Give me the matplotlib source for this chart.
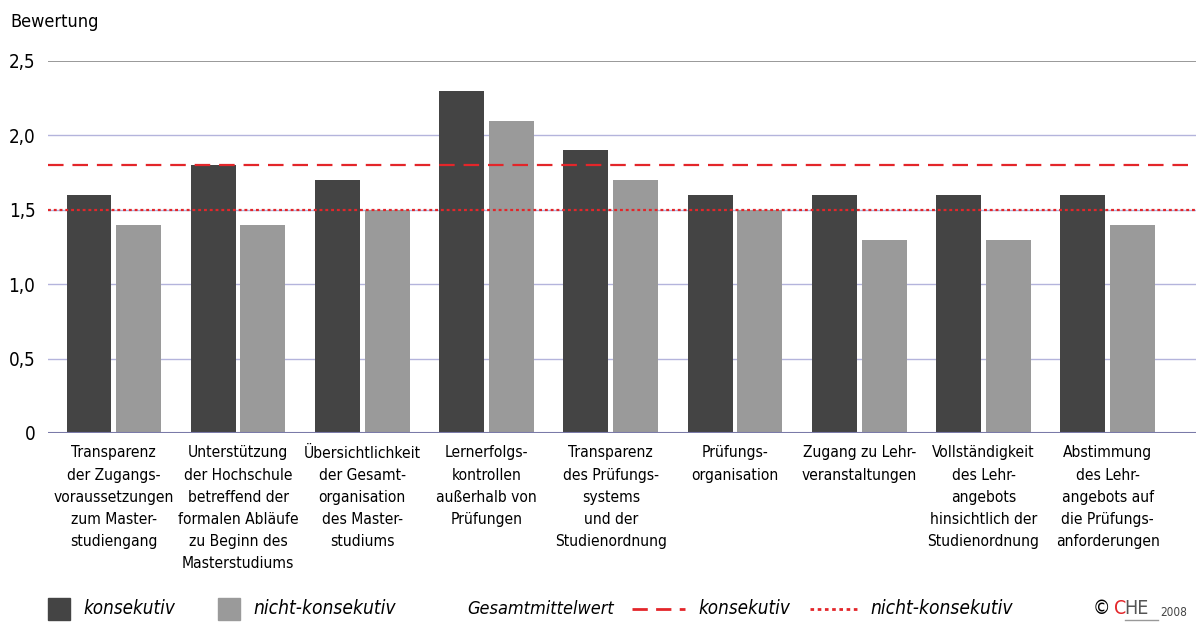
import matplotlib
matplotlib.use('Agg')
import matplotlib.pyplot as plt
import matplotlib.patches as mpatches
import matplotlib.lines as mlines
import numpy as np

plt.rcParams['font.family'] = ['DejaVu Sans']
plt.rcParams['font.stretch'] = 'condensed'

categories = [
    'Transparenz\nder Zugangs-\nvoraussetzungen\nzum Master-\nstudiengang',
    'Unterstützung\nder Hochschule\nbetreffend der\nformalen Abläufe\nzu Beginn des\nMasterstudiums',
    'Übersichtlichkeit\nder Gesamt-\norganisation\ndes Master-\nstudiums',
    'Lernerfolgs-\nkontrollen\naußerhalb von\nPrüfungen',
    'Transparenz\ndes Prüfungs-\nsystems\nund der\nStudienordnung',
    'Prüfungs-\norganisation',
    'Zugang zu Lehr-\nveranstaltungen',
    'Vollständigkeit\ndes Lehr-\nangebots\nhinsichtlich der\nStudienordnung',
    'Abstimmung\ndes Lehr-\nangebots auf\ndie Prüfungs-\nanforderungen',
]
konsekutiv = [1.6, 1.8, 1.7, 2.3, 1.9, 1.6, 1.6, 1.6, 1.6]
nicht_konsekutiv = [1.4, 1.4, 1.5, 2.1, 1.7, 1.5, 1.3, 1.3, 1.4]
mean_konsekutiv = 1.8
mean_nicht = 1.5
yticks = [0, 0.5, 1.0, 1.5, 2.0, 2.5]
ytick_labels = ['0', '0,5', '1,0', '1,5', '2,0', '2,5']

dark = '#444444'
light = '#9a9a9a'
red = '#e3262a'
dash = (0, (7, 4))
dot = (0, (1.3, 1.3))

fig = plt.figure(figsize=(11.96, 6.23), dpi=100)
ax = fig.add_axes([48 / 1196, 1 - 433 / 623, 1 - 48 / 1196, 372 / 623])

x = np.arange(len(categories))
w = 0.362
ax.bar(x - 0.2, konsekutiv, width=w, color=dark, zorder=3)
ax.bar(x + 0.2, nicht_konsekutiv, width=w, color=light, zorder=3)

ax.axhline(mean_konsekutiv, color=red, linestyle=dash, linewidth=1.6, zorder=4)
ax.axhline(mean_nicht, color=red, linestyle=dot, linewidth=1.6, zorder=4)

ax.set_xlim(-0.53, 8.71)
ax.set_ylim(0, 2.5)
ax.set_yticks(yticks)
ax.set_yticklabels(ytick_labels, fontsize=13.5)
ax.tick_params(axis='y', length=0, pad=9)
ax.set_xticks(x)
ax.set_xticklabels(categories, fontsize=11.2, linespacing=1.6, va='top')
ax.tick_params(axis='x', length=0, pad=9)
for v in yticks[1:-1]:
    ax.axhline(v, color='#b4b4dc', linewidth=1, zorder=1)
ax.axhline(2.5, color='#888888', linewidth=1.2, zorder=1)
ax.axhline(0, color='#7a7aa8', linewidth=1.5, zorder=5)
for s in ax.spines.values():
    s.set_visible(False)

fig.text(10 / 1196, 1 - 22 / 623, 'Bewertung', fontsize=13, va='center')

# legend row
ly = 1 - 609 / 623
fig.patches.append(mpatches.Rectangle((48 / 1196, ly - 11 / 623), 22 / 1196, 22 / 623,
                                      transform=fig.transFigure, color=dark))
fig.text(83 / 1196, ly, 'konsekutiv', fontsize=13.5, style='italic', va='center')
fig.patches.append(mpatches.Rectangle((218 / 1196, ly - 11 / 623), 22 / 1196, 22 / 623,
                                      transform=fig.transFigure, color=light))
fig.text(253 / 1196, ly, 'nicht-konsekutiv', fontsize=13.8, style='italic', va='center')
fig.text(467 / 1196, ly, 'Gesamtmittelwert', fontsize=13, style='italic', va='center')
fig.lines.append(mlines.Line2D([632 / 1196, 685 / 1196], [ly, ly], transform=fig.transFigure,
                               color=red, linestyle=(0, (5.5, 3)), linewidth=2))
fig.text(698 / 1196, ly, 'konsekutiv', fontsize=13.5, style='italic', va='center')
fig.lines.append(mlines.Line2D([810 / 1196, 860 / 1196], [ly, ly], transform=fig.transFigure,
                               color=red, linestyle=dot, linewidth=2))
fig.text(870 / 1196, ly, 'nicht-konsekutiv', fontsize=13.8, style='italic', va='center')
fig.text(1093 / 1196, ly, '©', fontsize=14, va='center')
fig.text(1114 / 1196, ly, 'C', fontsize=14, color=red, va='center')
fig.text(1124 / 1196, ly, 'HE', fontsize=14, color='#555555', va='center')
fig.lines.append(mlines.Line2D([1125 / 1196, 1158 / 1196], [ly - 11 / 623, ly - 11 / 623],
                               transform=fig.transFigure, color='#999999', linewidth=1))
fig.text(1160 / 1196, ly - 3 / 623, '2008', fontsize=8.5, color='#444444', va='center')

fig.savefig('out.png', dpi=100)
